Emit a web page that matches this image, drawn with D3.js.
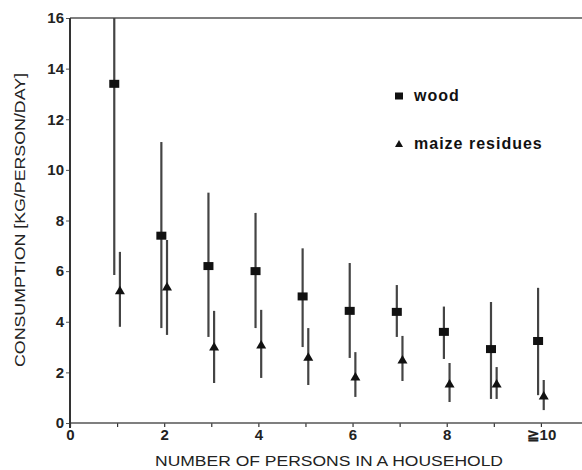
<!DOCTYPE html>
<html>
<head>
<meta charset="utf-8">
<script src="https://cdn.jsdelivr.net/npm/d3@7"></script>
<style>
  body { margin: 0; background: #fff; }
  svg { display: block; }
  .tick text { font-family: "Liberation Sans", Arial, sans-serif; font-weight: bold; font-size: 15px; fill: #222; }
</style>
</head>
<body>
<svg id="ch" width="582" height="470"></svg>
<script>
// household size (10 = "10 or more")
var persons = [1, 2, 3, 4, 5, 6, 7, 8, 9, 10];

// wood: mean, upper, lower (kg/person/day)
var woodMean = [13.4, 7.4, 6.2, 6.0, 5.0, 4.43, 4.39, 3.6, 2.92, 3.24];
var woodHigh = [16.0, 11.1, 9.1, 8.3, 6.9, 6.32, 5.45, 4.6, 4.78, 5.34];
var woodLow  = [5.85, 3.75, 3.4, 3.75, 3.0, 2.57, 3.4, 2.53, 0.95, 1.1];

// maize residues: mean, upper, lower
var maizeMean = [5.22, 5.37, 3.0, 3.08, 2.6, 1.82, 2.49, 1.54, 1.54, 1.07];
var maizeHigh = [6.76, 7.23, 4.43, 4.47, 3.75, 2.8, 3.44, 2.37, 2.21, 1.7];
var maizeLow  = [3.8, 3.48, 1.58, 1.78, 1.5, 1.03, 1.66, 0.83, 0.95, 0.51];

var xTicks = [0, 1, 2, 3, 4, 5, 6, 7, 8, 9, 10];
var xTickLabels = {0: "0", 2: "2", 4: "4", 6: "6", 8: "8", 10: "\u226710"};
var yTicks = [0, 2, 4, 6, 8, 10, 12, 14, 16];

var mLeft = 70, mTop = 18, mBottom = 423;
var svg = d3.select("#ch");

var x = d3.scaleLinear().domain([0, 11]).range([mLeft, 588]);
var y = d3.scaleLinear().domain([0, 16]).range([mBottom, mTop]);

// top frame line
svg.append("line")
  .attr("x1", mLeft).attr("x2", 582).attr("y1", y(16)).attr("y2", y(16))
  .style("stroke", "#555").style("stroke-width", 1.5);

var xAxis = svg.append("g")
  .attr("transform", "translate(0," + mBottom + ")")
  .call(d3.axisBottom(x).tickValues(xTicks).tickSize(4).tickPadding(2)
    .tickFormat(function (d) { return xTickLabels[d] || ""; }));
xAxis.select(".domain").remove();
xAxis.append("line").attr("x1", mLeft).attr("x2", 582)
  .style("stroke", "#555").style("stroke-width", 1.5);
xAxis.selectAll(".tick line").style("stroke", "#333").style("stroke-width", 1.2);

var yAxis = svg.append("g")
  .attr("transform", "translate(" + mLeft + ",0)")
  .call(d3.axisLeft(y).tickValues(yTicks).tickSize(4).tickPadding(2));
yAxis.select(".domain").remove();
yAxis.append("line").attr("y1", mTop).attr("y2", mBottom + 5)
  .style("stroke", "#333").style("stroke-width", 2);
yAxis.selectAll(".tick line").style("stroke", "#555").style("stroke-width", 1);

// axis titles
svg.append("text")
  .attr("x", 329).attr("y", 466)
  .attr("text-anchor", "middle")
  .attr("textLength", 348).attr("lengthAdjust", "spacingAndGlyphs")
  .style("font-family", "Liberation Sans, Arial, sans-serif")
  .style("font-size", "14px").style("fill", "#222")
  .text("NUMBER OF PERSONS IN A HOUSEHOLD");

svg.append("text")
  .attr("transform", "translate(25,220) rotate(-90)")
  .attr("text-anchor", "middle")
  .attr("textLength", 294).attr("lengthAdjust", "spacingAndGlyphs")
  .style("font-family", "Liberation Sans, Arial, sans-serif")
  .style("font-size", "14px").style("fill", "#222")
  .text("CONSUMPTION [KG/PERSON/DAY]");

var series = [
  { name: "wood", shift: -0.06, mean: woodMean, high: woodHigh, low: woodLow, sym: "square" },
  { name: "maize residues", shift: 0.06, mean: maizeMean, high: maizeHigh, low: maizeLow, sym: "triangle" }
];

function marker(g, sym) {
  if (sym === "square") {
    g.append("rect").attr("x", -5).attr("y", -4).attr("width", 10).attr("height", 8).style("fill", "#111");
  } else {
    g.append("path").attr("d", "M0,-5L5,3.5L-5,3.5Z").style("fill", "#111");
  }
}

series.forEach(function (s) {
  var pts = persons.map(function (p, i) {
    return { x: p + s.shift, m: s.mean[i], hi: s.high[i], lo: s.low[i] };
  });
  var g = svg.append("g").attr("class", "series");
  g.selectAll("line.err").data(pts).enter().append("line")
    .attr("class", "err")
    .attr("x1", function (d) { return x(d.x); })
    .attr("x2", function (d) { return x(d.x); })
    .attr("y1", function (d) { return y(d.hi); })
    .attr("y2", function (d) { return y(d.lo); })
    .style("stroke", "#444").style("stroke-width", 2.2);
  g.selectAll("g.pt").data(pts).enter().append("g")
    .attr("class", "pt")
    .attr("transform", function (d) { return "translate(" + x(d.x) + "," + y(d.m) + ")"; })
    .each(function () { marker(d3.select(this), s.sym); });
});

// legend
var legend = svg.append("g");
series.forEach(function (s, i) {
  var ly = 96 + i * 48;
  var mk = legend.append("g").attr("transform", "translate(399," + ly + ")");
  marker(mk, s.sym);
  mk.select("rect").attr("x", -4).attr("y", -3.5).attr("width", 8).attr("height", 7);
  mk.select("path").attr("d", "M0,-4L4,3L-4,3Z");
  legend.append("text")
    .attr("x", 414).attr("y", ly + 5)
    .style("font-family", "Liberation Sans, Arial, sans-serif")
    .style("font-weight", "bold").style("font-size", "16px")
    .style("letter-spacing", "1px").style("fill", "#111")
    .text(s.name);
});
</script>
</body>
</html>
